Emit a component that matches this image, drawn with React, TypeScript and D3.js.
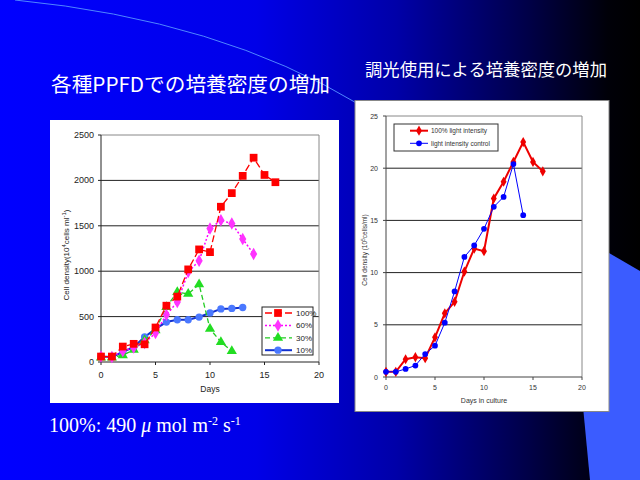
import React from "react";
import * as d3 from "d3";

// ---------- Left chart data (各種PPFD) ----------
const daysL100 = [0, 1, 2, 3, 4, 5, 6, 7, 8, 9, 10, 11, 12, 13, 14, 15, 16];
const val100 = [60, 60, 170, 200, 195, 380, 620, 720, 1020, 1240, 1210, 1710, 1860, 2050, 2250, 2060, 1980];
const daysL60 = [0, 1, 2, 3, 4, 5, 6, 7, 8, 9, 10, 11, 12, 13, 14];
const val60 = [60, 55, 120, 160, 210, 320, 520, 660, 990, 1115, 1470, 1560, 1525, 1355, 1190];
const daysL30 = [0, 1, 2, 3, 4, 5, 6, 7, 8, 9, 10, 11, 12];
const val30 = [50, 50, 75, 135, 240, 350, 605, 770, 750, 855, 365, 220, 120];
const daysL10 = [0, 1, 2, 3, 4, 5, 6, 7, 8, 9, 10, 11, 12, 13];
const val10 = [60, 55, 110, 165, 275, 365, 440, 465, 465, 495, 540, 585, 590, 600];
const leftXTicks = [0, 5, 10, 15, 20];
const leftYTicks = [0, 500, 1000, 1500, 2000, 2500];
const leftLegend = ["100%", "60%", "30%", "10%"];

// ---------- Right chart data (調光使用) ----------
const daysRRed = [0, 1, 2, 3, 4, 5, 6, 7, 8, 9, 10, 11, 12, 13, 14, 15, 16];
const valRed = [0.5, 0.5, 1.7, 1.9, 1.8, 3.8, 6.1, 7.2, 10.1, 12.3, 12.05, 17.1, 18.7, 20.6, 22.5, 20.6, 19.7];
const daysRBlue = [0, 1, 2, 3, 4, 5, 6, 7, 8, 9, 10, 11, 12, 13, 14];
const valBlue = [0.5, 0.5, 0.77, 1.1, 2.2, 3.0, 5.2, 8.2, 11.5, 12.6, 14.2, 16.3, 17.25, 20.4, 15.5];
const rightXTicks = [0, 5, 10, 15, 20];
const rightYTicks = [0, 5, 10, 15, 20, 25];
const rightLegend = ["100% light intensity", "light intensity control"];

const titleLeft = "各種PPFDでの培養密度の増加";
const titleRight = "調光使用による培養密度の増加";

type Pt = [number, number];
const zip = (a: number[], b: number[]): Pt[] => a.map((d, i) => [d, b[i]]);

const sym = (type: d3.SymbolType, size: number) => d3.symbol().type(type).size(size)() as string;

export default function App() {
  // left scales
  const xL = d3.scaleLinear().domain([0, 20]).range([101, 319]);
  const yL = d3.scaleLinear().domain([0, 2500]).range([362, 135]);
  const lineL = d3.line<Pt>().x((d) => xL(d[0])).y((d) => yL(d[1]));

  // right scales
  const xR = d3.scaleLinear().domain([0, 20]).range([386, 582]);
  const yR = d3.scaleLinear().domain([0, 25]).range([377, 116]);
  const lineR = d3.line<Pt>().x((d) => xR(d[0])).y((d) => yR(d[1]));

  const leftSeries = [
    { name: leftLegend[0], pts: zip(daysL100, val100), color: "#ff0000", dash: "7,3", width: 1.3, marker: sym(d3.symbolSquare, 60), mfill: "#ff0000" },
    { name: leftLegend[1], pts: zip(daysL60, val60), color: "#ff00ff", dash: "2,2", width: 1.5, marker: sym(d3.symbolDiamond, 45), mfill: "#ff33ff" },
    { name: leftLegend[2], pts: zip(daysL30, val30), color: "#22cc22", dash: "5,3", width: 1.3, marker: sym(d3.symbolTriangle, 45), mfill: "#22dd22" },
    { name: leftLegend[3], pts: zip(daysL10, val10), color: "#1030d0", dash: "", width: 2, marker: sym(d3.symbolCircle, 42), mfill: "#4a78ff" },
  ];

  const rightSeries = [
    { name: rightLegend[0], pts: zip(daysRRed, valRed), color: "#ee0000", width: 2, marker: sym(d3.symbolDiamond, 30), mfill: "#ee0000" },
    { name: rightLegend[1], pts: zip(daysRBlue, valBlue), color: "#0000ff", width: 1, marker: sym(d3.symbolCircle, 26), mfill: "#0000ff" },
  ];

  const sans = "'Liberation Sans', Arial, sans-serif";
  const cjk = "'Noto Sans CJK JP', sans-serif";

  return (
    <svg width={640} height={480} style={{ position: "absolute", left: 0, top: 0 }} xmlns="http://www.w3.org/2000/svg">
      <defs>
        <linearGradient id="bg" x1="0" y1="0" x2="1" y2="0">
          <stop offset="0" stopColor="#0000ff" />
          <stop offset="0.4" stopColor="#0000e8" />
          <stop offset="0.62" stopColor="#0000a8" />
          <stop offset="0.82" stopColor="#00004a" />
          <stop offset="0.95" stopColor="#000008" />
          <stop offset="1" stopColor="#000000" />
        </linearGradient>
      </defs>
      <rect x={0} y={0} width={640} height={480} fill="url(#bg)" />
      <polygon points="566,228 640,271 640,480 590,480" fill="#3b5cff" />
      <path d="M 15 0 Q 220 20 360 105" fill="none" stroke="#4f86ff" strokeWidth={1} />

      {/* Titles */}
      <text x={51} y={92} fill="#ffffff" fontFamily={cjk} fontSize={20} textLength={279} lengthAdjust="spacingAndGlyphs">{titleLeft}</text>
      <text x={365} y={76} fill="#ffffff" fontFamily={cjk} fontSize={17} textLength={242} lengthAdjust="spacingAndGlyphs">{titleRight}</text>

      {/* Bottom note */}
      <text x={49} y={432} fill="#ffffff" fontFamily="'Liberation Serif', 'Times New Roman', serif" fontSize={20}>
        100%: 490 <tspan fontStyle="italic">μ</tspan> mol m<tspan dy={-7} fontSize={12}>-2</tspan><tspan dy={7}> s</tspan><tspan dy={-7} fontSize={12}>-1</tspan>
      </text>

      {/* ---------- Left panel ---------- */}
      <rect x={50} y={120} width={289} height={283} fill="#ffffff" />
      {leftYTicks.filter((t) => t > 0 && t < 2500).map((t) => (
        <line key={"lg" + t} x1={xL(0)} x2={xL(20)} y1={yL(t)} y2={yL(t)} stroke="#222" strokeWidth={1} />
      ))}
      <line x1={xL(0)} x2={xL(20)} y1={yL(2500)} y2={yL(2500)} stroke="#888" strokeWidth={1} />
      <line x1={xL(20)} x2={xL(20)} y1={yL(2500)} y2={yL(0)} stroke="#888" strokeWidth={1} />
      <line x1={xL(0)} x2={xL(0)} y1={yL(2500)} y2={yL(0)} stroke="#222" strokeWidth={1} />
      <line x1={xL(0)} x2={xL(20)} y1={yL(0)} y2={yL(0)} stroke="#222" strokeWidth={1} />
      {leftXTicks.map((t) => (
        <g key={"lx" + t}>
          <line x1={xL(t)} x2={xL(t)} y1={yL(0)} y2={yL(0) + 3} stroke="#222" />
          <text x={xL(t)} y={yL(0) + 16} fontFamily={sans} fontSize={9} textAnchor="middle" fill="#222">{t}</text>
        </g>
      ))}
      {leftYTicks.map((t) => (
        <g key={"ly" + t}>
          <line x1={xL(0) - 3} x2={xL(0)} y1={yL(t)} y2={yL(t)} stroke="#222" />
          <text x={94} y={yL(t) + 3} fontFamily={sans} fontSize={9} textAnchor="end" fill="#222">{t}</text>
        </g>
      ))}
      <text x={210} y={392} fontFamily={sans} fontSize={8.5} textAnchor="middle" fill="#222">Days</text>
      <text transform="translate(69,255) rotate(-90)" fontFamily={sans} fontSize={8} textAnchor="middle" fill="#222">
        Cell density(10<tspan dy={-3} fontSize={6}>4</tspan><tspan dy={3}>cells ml</tspan><tspan dy={-3} fontSize={6}>-1</tspan><tspan dy={3}>)</tspan>
      </text>
      {[...leftSeries].reverse().map((s) => (
        <g key={"ls" + s.name}>
          <path d={lineL(s.pts) as string} fill="none" stroke={s.color} strokeWidth={s.width} strokeDasharray={s.dash} />
          {s.pts.map((p, i) => (
            <path key={i} d={s.marker} transform={`translate(${xL(p[0])},${yL(p[1])})`} fill={s.mfill} />
          ))}
        </g>
      ))}
      {/* left legend */}
      <rect x={262} y={307} width={51} height={48} fill="#ffffff" stroke="#222" strokeWidth={1} />
      {leftSeries.map((s, i) => {
        const y = 313 + i * 12.4;
        return (
          <g key={"ll" + s.name}>
            <line x1={265} x2={292} y1={y} y2={y} stroke={s.color} strokeWidth={s.width} strokeDasharray={s.dash} />
            <path d={s.marker} transform={`translate(278,${y})`} fill={s.mfill} />
            <text x={296} y={y + 3} fontFamily={sans} fontSize={8} fill="#222">{s.name}</text>
          </g>
        );
      })}

      {/* ---------- Right panel ---------- */}
      <rect x={355} y={100.5} width={254} height={311} fill="#ffffff" stroke="#888" strokeWidth={1} />
      {rightYTicks.filter((t) => t > 0 && t < 25).map((t) => (
        <line key={"rg" + t} x1={xR(0)} x2={xR(20)} y1={yR(t)} y2={yR(t)} stroke="#222" strokeWidth={1} />
      ))}
      <line x1={xR(0)} x2={xR(20)} y1={yR(25)} y2={yR(25)} stroke="#888" strokeWidth={1} />
      <line x1={xR(20)} x2={xR(20)} y1={yR(25)} y2={yR(0)} stroke="#888" strokeWidth={1} />
      <line x1={xR(0)} x2={xR(0)} y1={yR(25)} y2={yR(0)} stroke="#444" strokeWidth={1} />
      <line x1={xR(0)} x2={xR(20)} y1={yR(0)} y2={yR(0)} stroke="#444" strokeWidth={1} />
      {rightXTicks.map((t) => (
        <g key={"rx" + t}>
          <line x1={xR(t)} x2={xR(t)} y1={yR(0)} y2={yR(0) + 3} stroke="#444" />
          <text x={xR(t)} y={yR(0) + 13} fontFamily={sans} fontSize={7} textAnchor="middle" fill="#333">{t}</text>
        </g>
      ))}
      {rightYTicks.map((t) => (
        <g key={"ry" + t}>
          <line x1={xR(0) - 3} x2={xR(0)} y1={yR(t)} y2={yR(t)} stroke="#444" />
          <text x={378} y={yR(t) + 2.5} fontFamily={sans} fontSize={7} textAnchor="end" fill="#333">{t}</text>
        </g>
      ))}
      <text x={484} y={403} fontFamily={sans} fontSize={7} textAnchor="middle" fill="#333">Days in culture</text>
      <text transform="translate(367,250) rotate(-90)" fontFamily={sans} fontSize={6.5} textAnchor="middle" fill="#333">
        Cell density (10<tspan dy={-2.5} fontSize={5}>5</tspan><tspan dy={2.5}>cells/ml)</tspan>
      </text>
      {rightSeries.map((s) => (
        <g key={"rs" + s.name}>
          <path d={lineR(s.pts) as string} fill="none" stroke={s.color} strokeWidth={s.width} />
          {s.pts.map((p, i) => (
            <path key={i} d={s.marker} transform={`translate(${xR(p[0])},${yR(p[1])})`} fill={s.mfill} />
          ))}
        </g>
      ))}
      <rect x={394} y={124} width={104} height={27} fill="#ffffff" stroke="#333" strokeWidth={1} />
      {rightSeries.map((s, i) => {
        const y = 130.7 + i * 12.6;
        return (
          <g key={"rl" + s.name}>
            <line x1={410} x2={428} y1={y} y2={y} stroke={s.color} strokeWidth={s.width} />
            <path d={s.marker} transform={`translate(419,${y})`} fill={s.mfill} />
            <text x={431} y={y + 2.5} fontFamily={sans} fontSize={6.5} fill="#333">{s.name}</text>
          </g>
        );
      })}
    </svg>
  );
}
